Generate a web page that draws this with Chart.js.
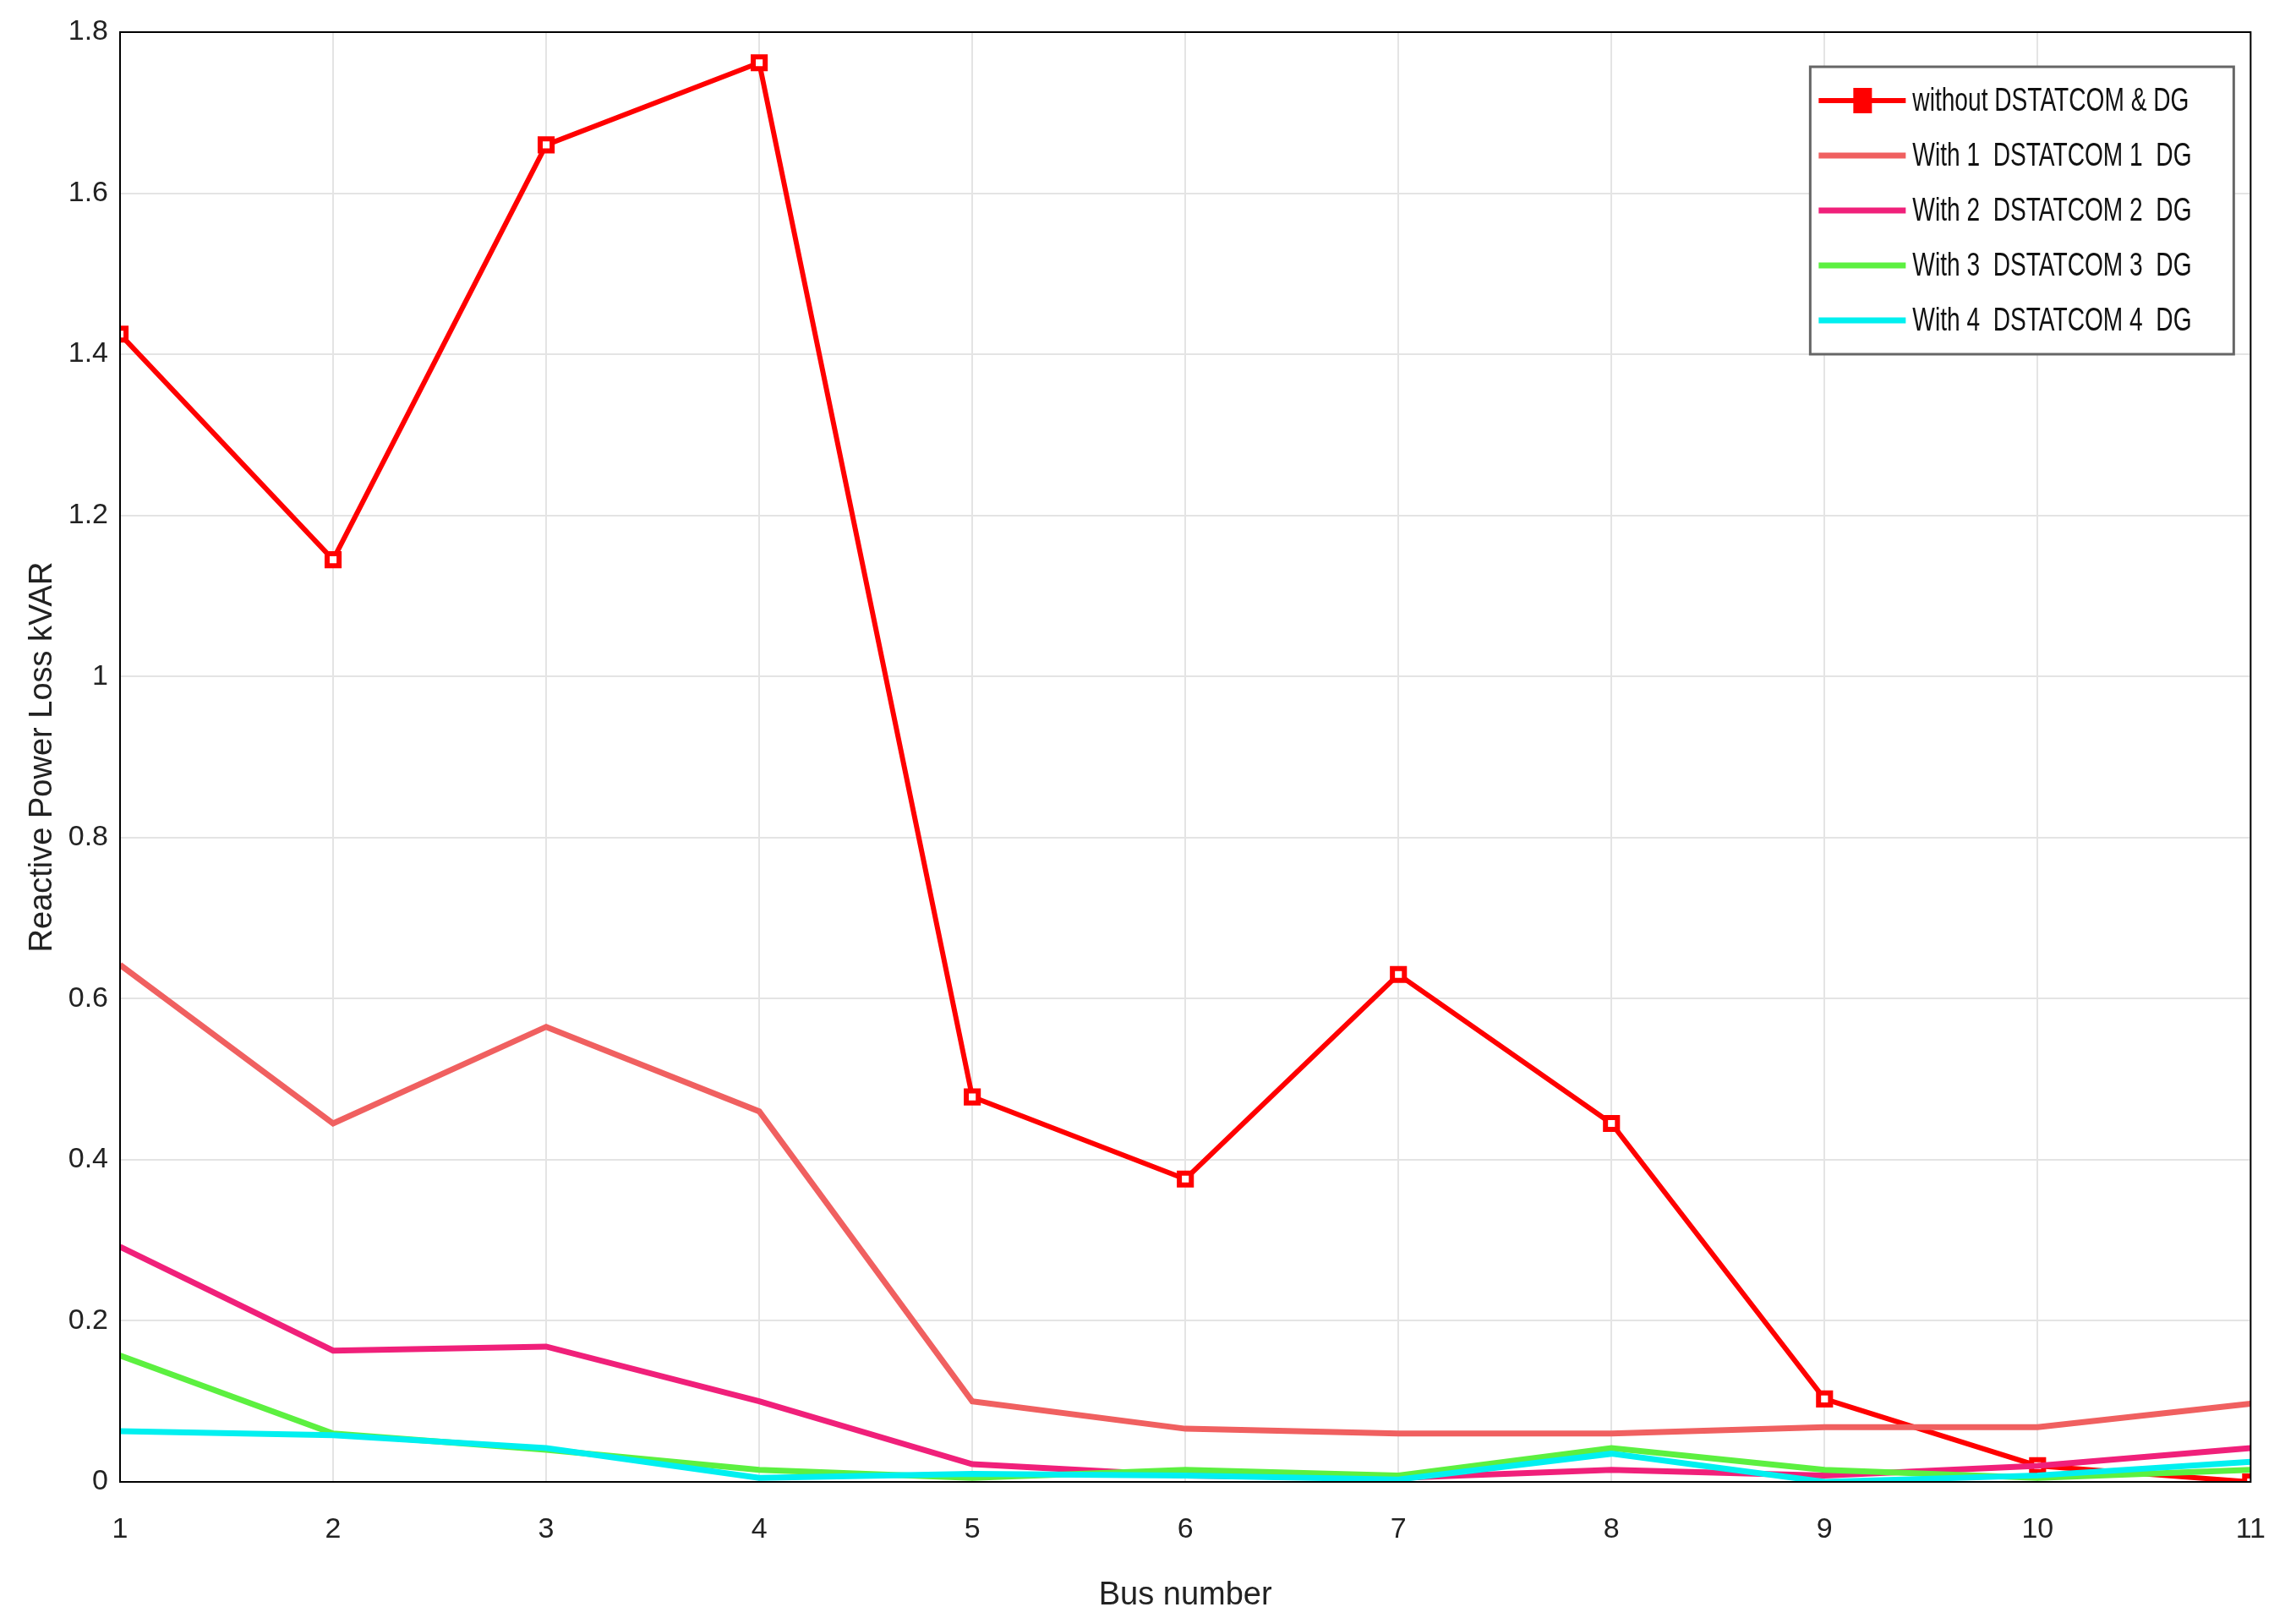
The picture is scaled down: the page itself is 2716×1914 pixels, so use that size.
<!DOCTYPE html>
<html><head><meta charset="utf-8">
<script src="https://cdn.jsdelivr.net/npm/chart.js@4"></script>
<style>html,body{margin:0;padding:0;background:#fff;}</style>
</head><body>
<canvas id="c" width="2716" height="1914"></canvas>
<script>
const buses = [1,2,3,4,5,6,7,8,9,10,11];
const seriesNames = ["without DSTATCOM & DG","With 1  DSTATCOM 1  DG","With 2  DSTATCOM 2  DG","With 3  DSTATCOM 3  DG","With 4  DSTATCOM 4  DG"];
const noComp = [1.425,1.145,1.66,1.762,0.478,0.376,0.63,0.445,0.103,0.02,0];
const with1 = [0.642,0.445,0.565,0.46,0.1,0.066,0.06,0.06,0.068,0.068,0.097];
const with2 = [0.292,0.163,0.168,0.1,0.022,0.008,0.005,0.015,0.008,0.02,0.042];
const with3 = [0.157,0.06,0.04,0.015,0.005,0.015,0.008,0.042,0.015,0.005,0.015];
const with4 = [0.063,0.058,0.042,0.005,0.01,0.008,0.003,0.035,0,0.008,0.025];
const yTicks = [0,0.2,0.4,0.6,0.8,1,1.2,1.4,1.6,1.8];
const colors = ['#ff0000','#f06060','#f0207a','#5cf040','#00f0f0'];
const allSeries = [noComp,with1,with2,with3,with4];
const FONT = '"Liberation Sans",Arial,sans-serif';

const datasets = allSeries.map((s,i)=>({
  label: seriesNames[i],
  data: s.map((v,j)=>({x:buses[j],y:v})),
  borderColor: colors[i], backgroundColor: colors[i],
  borderWidth: i===0?6:7,
  pointStyle: 'rect', pointRadius: i===0?10:0,
  pointBackgroundColor: '#ffffff', pointBorderColor:'#ff0000', pointBorderWidth:6,
  tension: 0, order: 5-i
}));

const frame = {
  id:'frame',
  afterDraw(chart){
    const {ctx, chartArea:a} = chart;
    ctx.save();
    ctx.strokeStyle='#000'; ctx.lineWidth=2;
    ctx.strokeRect(a.left,a.top,a.right-a.left,a.bottom-a.top);
    const L=a.right-521, T=a.top+41, W=501, H=340;
    ctx.fillStyle='#fff'; ctx.fillRect(L,T,W,H);
    ctx.strokeStyle='#666'; ctx.lineWidth=3; ctx.strokeRect(L,T,W,H);
    ctx.textBaseline='middle';
    seriesNames.forEach((n,i)=>{
      const y=T+40+i*65;
      ctx.strokeStyle=colors[i]; ctx.lineWidth=i===0?6:7;
      ctx.beginPath(); ctx.moveTo(L+10,y); ctx.lineTo(L+113,y); ctx.stroke();
      if(i===0){ctx.fillStyle='#ff0000'; ctx.fillRect(L+51,y-15,22,30);}
      ctx.save();
      ctx.translate(L+121,y+2); ctx.scale(0.74,1);
      ctx.font='38px '+FONT; ctx.fillStyle='#111';
      ctx.fillText(n,0,0);
      ctx.restore();
    });
    ctx.restore();
  }
};

new Chart(document.getElementById('c'),{
  type:'line',
  data:{datasets},
  options:{
    responsive:false, animation:false, devicePixelRatio:1,
    layout:{padding:{top:38,right:38,left:0,bottom:0}},
    plugins:{legend:{display:false},tooltip:{enabled:false}},
    scales:{
      x:{type:'linear',min:1,max:11,
        afterBuildTicks(s){s.ticks=buses.map(v=>({value:v}));},
        afterFit(s){s.height=161;},
        grid:{color:'#e4e4e4',lineWidth:2,drawTicks:false},
        border:{color:'#000',width:2},
        ticks:{font:{family:FONT,size:34},color:'#222',padding:36},
        title:{display:true,text:'Bus number',font:{family:FONT,size:38},color:'#222',padding:{top:0}}
      },
      y:{min:0,max:1.8,
        afterBuildTicks(s){s.ticks=yTicks.map(v=>({value:v}));},
        afterFit(s){s.width=142;},
        grid:{color:'#e4e4e4',lineWidth:2,drawTicks:false},
        border:{color:'#000',width:2},
        ticks:{font:{family:FONT,size:34},color:'#222',padding:14,callback:v=>String(Number(v.toFixed(1)))},
        title:{display:true,text:'Reactive Power Loss kVAR',font:{family:FONT,size:38},color:'#222',padding:{top:28,bottom:0}}
      }
    }
  },
  plugins:[frame]
});
</script>
</body></html>
